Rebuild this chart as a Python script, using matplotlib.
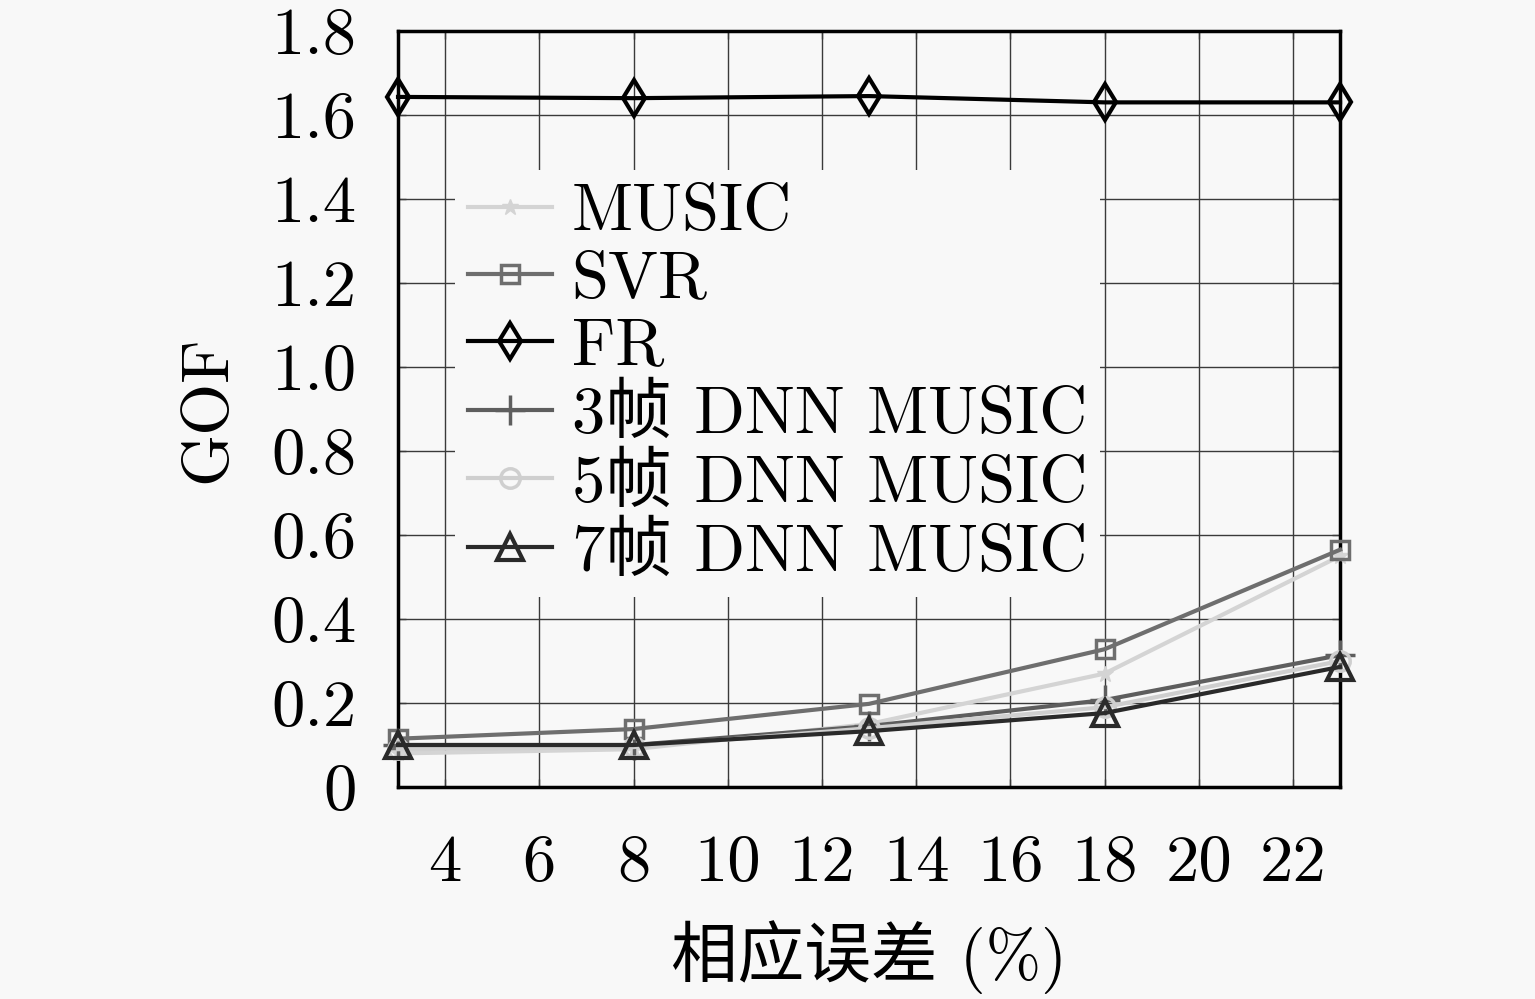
import matplotlib
matplotlib.use("Agg")
import matplotlib.pyplot as plt

x = [3, 8, 13, 18, 23]
music = [0.08, 0.09, 0.15, 0.27, 0.55]
svr = [0.115, 0.138, 0.198, 0.328, 0.565]
fr = [1.643, 1.640, 1.645, 1.630, 1.630]
dnn3 = [0.10, 0.10, 0.145, 0.207, 0.314]
dnn5 = [0.09, 0.095, 0.14, 0.19, 0.30]
dnn7 = [0.10, 0.10, 0.133, 0.176, 0.286]
labels = ["MUSIC", "SVR", "FR", "3帧 DNN MUSIC", "5帧 DNN MUSIC", "7帧 DNN MUSIC"]
xticks = [4, 6, 8, 10, 12, 14, 16, 18, 20, 22]
yticks = [0, 0.2, 0.4, 0.6, 0.8, 1.0, 1.2, 1.4, 1.6, 1.8]
ytick_labels = ["0", "0.2", "0.4", "0.6", "0.8", "1.0", "1.2", "1.4", "1.6", "1.8"]

fam = ["cmr10", "Noto Sans CJK SC", "DejaVu Serif"]
plt.rcParams["font.family"] = fam
plt.rcParams["axes.unicode_minus"] = False
bg = "#f8f8f8"
fs = 48

fig = plt.figure(figsize=(15.35, 9.99), dpi=100, facecolor=bg)
ax = fig.add_axes([0.2593, 0.2122, 0.6137, 0.7568], facecolor=bg)

styles = [
    dict(color="#d4d4d4", marker="*", ms=12, mfc="#d4d4d4", lw=3),
    dict(color="#6e6e6e", marker="s", ms=13, mfc="none", mew=2.5, lw=3),
    dict(color="#000000", marker="d", ms=18, mfc="none", mew=3, lw=3),
    dict(color="#5e5e5e", marker="+", ms=22, mew=2.5, lw=3),
    dict(color="#cfcfcf", marker="o", ms=14, mfc="none", mew=2.5, lw=3),
    dict(color="#2a2a2a", marker="^", ms=19, mfc="none", mew=3, lw=3),
]
series = [music, svr, fr, dnn3, dnn5, dnn7]
for ys, lab, st in zip(series, labels, styles):
    ax.plot(x, ys, label=lab, zorder=3, clip_on=False, **st)

ax.set_xlim(3, 23)
ax.set_ylim(0, 1.8)
ax.set_xticks(xticks)
ax.set_yticks(yticks)
ax.set_yticklabels(ytick_labels)
ax.grid(True, color="#3a3a3a", lw=1.0)
ax.tick_params(axis="both", direction="in", top=True, right=True, length=6,
               width=1, labelsize=fs, color="#3a3a3a")
ax.tick_params(axis="x", pad=34)
ax.tick_params(axis="y", pad=30)
for s in ax.spines.values():
    s.set_linewidth(2.5)
    s.set_color("black")

ax.set_xlabel("相应误差 (%)", fontsize=fs, labelpad=19)
ax.set_ylabel("GOF", fontsize=fs, labelpad=24)

leg = ax.legend(loc="upper left", bbox_to_anchor=(0.025, 0.86), fontsize=fs,
                frameon=True, facecolor=bg, edgecolor="none", framealpha=1,
                handlelength=1.25, handletextpad=0.3, labelspacing=0.11,
                borderpad=0.2)
leg.set_zorder(5)

fig.savefig("out.png", dpi=100, facecolor=bg)
